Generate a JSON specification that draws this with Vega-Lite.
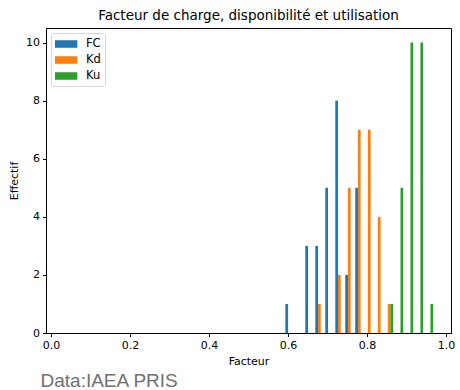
{
  "$schema": "https://vega.github.io/schema/vega-lite/v6.json",
  "background": "white",
  "autosize": {"type": "none"},
  "padding": {"left": 46, "top": 28, "right": 9, "bottom": 57},
  "width": 405,
  "height": 305,
  "title": {
    "text": "Facteur de charge, disponibilité et utilisation",
    "font": "DejaVu Sans",
    "fontSize": 13.5,
    "fontWeight": "normal",
    "color": "black",
    "anchor": "middle",
    "frame": "group",
    "offset": 6
  },
  "data": {
    "values": [
      {"serie": "FC", "x": 0.5968, "n": 1},
      {"serie": "FC", "x": 0.6473, "n": 3},
      {"serie": "FC", "x": 0.6726, "n": 3},
      {"serie": "FC", "x": 0.6979, "n": 5},
      {"serie": "FC", "x": 0.7232, "n": 8},
      {"serie": "FC", "x": 0.7484, "n": 2},
      {"serie": "FC", "x": 0.7737, "n": 5},
      {"serie": "Kd", "x": 0.6793, "n": 1},
      {"serie": "Kd", "x": 0.7299, "n": 2},
      {"serie": "Kd", "x": 0.7551, "n": 5},
      {"serie": "Kd", "x": 0.7804, "n": 7},
      {"serie": "Kd", "x": 0.8057, "n": 7},
      {"serie": "Kd", "x": 0.8309, "n": 4},
      {"serie": "Kd", "x": 0.8562, "n": 1},
      {"serie": "Ku", "x": 0.8629, "n": 1},
      {"serie": "Ku", "x": 0.8882, "n": 5},
      {"serie": "Ku", "x": 0.9135, "n": 10},
      {"serie": "Ku", "x": 0.9387, "n": 10},
      {"serie": "Ku", "x": 0.9640, "n": 1}
    ]
  },
  "layer": [
    {
      "mark": {"type": "bar", "size": 2.73},
      "encoding": {
        "x": {
          "field": "x",
          "type": "quantitative",
          "scale": {"domain": [0, 1], "nice": false, "zero": false},
          "axis": {
            "orient": "bottom",
            "title": "Facteur",
            "values": [0, 0.2, 0.4, 0.6, 0.8, 1.0],
            "format": ".1f",
            "labelFlush": false,
            "titlePadding": 5
          }
        },
        "y": {
          "field": "n",
          "type": "quantitative",
          "scale": {"domain": [0, 10.5], "nice": false},
          "axis": {
            "title": "Effectif",
            "values": [0, 2, 4, 6, 8, 10],
            "labelFlush": false,
            "titlePadding": 6
          }
        },
        "color": {
          "field": "serie",
          "type": "nominal",
          "scale": {"domain": ["FC", "Kd", "Ku"], "range": ["#1f77b4", "#ff7f0e", "#2ca02c"]},
          "legend": {
            "title": null,
            "orient": "top-left",
            "offset": 5,
            "padding": 4,
            "strokeColor": "#d6d6d6",
            "fillColor": "white",
            "cornerRadius": 3,
            "symbolType": "M-1,-0.54H2.19V0.54H-1Z",
            "symbolSize": 196,
            "symbolStrokeWidth": 0,
            "labelFont": "DejaVu Sans",
            "labelFontSize": 11.5,
            "labelColor": "black",
            "labelOffset": 17,
            "rowPadding": 3
          }
        }
      }
    },
    {
      "mark": {"type": "rule", "opacity": 0},
      "encoding": {
        "x": {
          "datum": 0,
          "type": "quantitative",
          "axis": {
            "orient": "bottom",
            "title": "Data:IAEA PRIS",
            "domain": false,
            "ticks": false,
            "labels": false,
            "titleFont": "Liberation Sans",
            "titleFontSize": 19,
            "titleFontWeight": "normal",
            "titleColor": "#707070",
            "titleAlign": "left",
            "titleBaseline": "alphabetic",
            "titleX": -6,
            "titleY": 53.7
          }
        }
      }
    }
  ],
  "resolve": {"axis": {"x": "independent"}},
  "config": {
    "view": {"stroke": "black", "strokeWidth": 1},
    "axis": {
      "grid": false,
      "domainColor": "black",
      "tickColor": "black",
      "tickSize": 3.5,
      "labelFont": "DejaVu Sans",
      "labelFontSize": 11,
      "labelColor": "black",
      "titleFont": "DejaVu Sans",
      "titleFontSize": 11,
      "titleFontWeight": "normal",
      "titleColor": "black",
      "labelPadding": 3
    }
  }
}
